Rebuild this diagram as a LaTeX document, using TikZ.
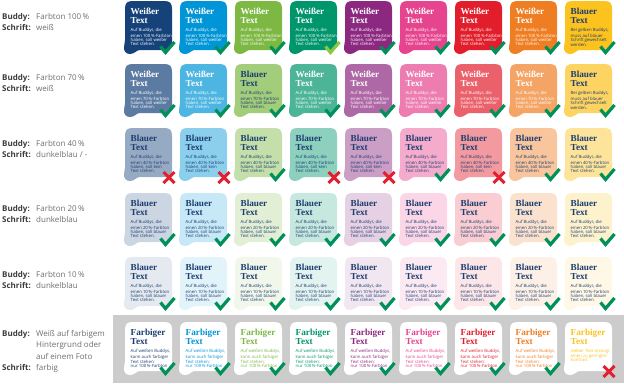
\documentclass[tikz,border=0pt]{standalone}
\usepackage{fontspec}
\setmainfont{Open Sans}
\newfontfamily\titlefont{Liberation Serif}
\usepackage{xcolor}

\definecolor{bnavy}{RGB}{22,66,122}
\definecolor{bcyan}{RGB}{0,149,214}
\definecolor{bgreen}{RGB}{124,184,66}
\definecolor{bteal}{RGB}{0,150,108}
\definecolor{bpurple}{RGB}{140,40,128}
\definecolor{bpink}{RGB}{230,68,142}
\definecolor{bred}{RGB}{226,30,44}
\definecolor{borange}{RGB}{239,125,34}
\definecolor{byellow}{RGB}{252,194,30}
\definecolor{txtblue}{RGB}{28,62,112}
\definecolor{okgreen}{RGB}{0,145,90}
\definecolor{oklight}{RGB}{141,198,63}
\definecolor{nored}{RGB}{226,32,48}
\definecolor{bandgrey}{RGB}{204,204,204}
\definecolor{labgrey}{RGB}{60,60,60}
\definecolor{valgrey}{RGB}{110,110,110}

\tikzset{
  buddy/.pic={\fill[pic actions] (0,8) .. controls (0,2) and (2,0) .. (8,0) -- (39,0)
    .. controls (45,0) and (47,2) .. (47,8) -- (47,42) .. controls (47,47) and (45,49) .. (40,49)
    -- (15,49) .. controls (11,49) and (10,53) .. (5,53) .. controls (1,53) and (-1.5,50) .. (-1,46)
    .. controls (-0.5,43) and (0,42) .. (0,39) -- cycle;},
  tick/.pic={\draw[okgreen,line width=3.2pt] (35.5,45.5) -- (40.5,51.5) -- (49.5,41);},
  ticklight/.pic={\draw[oklight,line width=3.2pt] (35.5,45.5) -- (40.5,51.5) -- (49.5,41);},
  cross/.pic={\draw[nored,line width=3pt] (38.5,44) -- (49.5,55) (38.5,55) -- (49.5,44);},
  title/.style={font=\titlefont\bfseries\fontsize{9.2}{9}\selectfont,align=left,inner sep=0pt,anchor=north west},
  body/.style={font=\fontsize{4.3}{4.2}\selectfont,align=left,inner sep=0pt,anchor=north west},
  lab/.style={font=\bfseries\fontsize{8}{10}\selectfont,text=labgrey,inner sep=0pt,anchor=base west},
  val/.style={font=\fontsize{8}{10}\selectfont,text=valgrey,inner sep=0pt,anchor=base west}
}

\newcommand\tW{Weißer\\Text}
\newcommand\tB{Blauer\\Text}
\newcommand\tF{Farbiger\\Text}
\newcommand\bW[1]{Auf Buddys, die\\einen #1\,\%-Farbton\\haben, soll weißer\\Text stehen.}
\newcommand\bB[1]{Auf Buddys, die\\einen #1\,\%-Farbton\\haben, soll blauer\\Text stehen.}
\newcommand\bK[1]{Auf Buddys, die\\einen #1\,\%-Farbton\\haben, soll kein\\Text stehen.}
\newcommand\bY[1]{Bei gelben Buddys,\\muss auf blauer\\Schrift gewechselt\\werden.}
\newcommand\bF[1]{Auf weißen Buddys,\\kann auch farbiger\\Text stehen:\\nur 100\,\%-Farbton}
\newcommand\bG[1]{Gelber Text erzeugt\\einen zu geringen\\Kontrast.}

% name, x, y, fill, text colour, title, body, mark
\newcommand\cell[8]{%
  \pic[fill=#4] at (#2,#3) {buddy};
  \node[title,text=#5] (t#1) at (#2+5.5,#3+7) {#6};
  \node[body,text=#5] (s#1) at (#2+5.5,#3+27.5) {#7};
  \pic at (#2,#3) {#8};
}

\begin{document}
\begin{tikzpicture}[x=1pt,y=-1pt]
  \useasboundingbox (0,0) rectangle (624,383);
  \fill[bandgrey] (113,315) rectangle (624,383);

  % labels
  \node[lab] (b1) at (2,19) {Buddy:};
  \node[val] (v1) at (36,19) {Farbton 100\,\%};
  \node[lab] (f1) at (2,30) {Schrift:};
  \node[val] (w1) at (36,30) {weiß};
  \node[lab] (b2) at (2,80) {Buddy:};
  \node[val] (v2) at (36,80) {Farbton 70\,\%};
  \node[lab] (f2) at (2,91) {Schrift:};
  \node[val] (w2) at (36,91) {weiß};
  \node[lab] (b3) at (2,146) {Buddy:};
  \node[val] (v3) at (36,146) {Farbton 40\,\%};
  \node[lab] (f3) at (2,157) {Schrift:};
  \node[val] (w3) at (36,157) {dunkelblau / -};
  \node[lab] (b4) at (2,211) {Buddy:};
  \node[val] (v4) at (36,211) {Farbton 20\,\%};
  \node[lab] (f4) at (2,222) {Schrift:};
  \node[val] (w4) at (36,222) {dunkelblau};
  \node[lab] (b5) at (2,277) {Buddy:};
  \node[val] (v5) at (36,277) {Farbton 10\,\%};
  \node[lab] (f5) at (2,288) {Schrift:};
  \node[val] (w5) at (36,288) {dunkelblau};
  \node[lab] (b6) at (2,336) {Buddy:};
  \node[val] (v6) at (36,336) {Weiß auf farbigem};
  \node[val] (v6b) at (36,347.5) {Hintergrund oder};
  \node[val] (v6c) at (36,359) {auf einem Foto};
  \node[lab] (f6) at (2,370.5) {Schrift:};
  \node[val] (w6) at (36,370.5) {farbig};

  % 100 %
  \foreach \colr/\fc/\ttl/\bdy/\mk [count=\i from 0] in {bnavy/white/\tW/\bW/tick,
      bcyan/white/\tW/\bW/tick, bgreen/white/\tW/\bW/tick, bteal/white/\tW/\bW/ticklight,
      bpurple/white/\tW/\bW/tick, bpink/white/\tW/\bW/tick, bred/white/\tW/\bW/tick,
      borange/white/\tW/\bW/tick, byellow/txtblue/\tB/\bY/tick}
    {\cell{a\i}{125+55*\i}{1}{\colr}{\fc}{\ttl}{\bdy{100}}{\mk}}

  % 70 %
  \foreach \colr/\fc/\ttl/\bdy [count=\i from 0] in {bnavy/white/\tW/\bW,
      bcyan/white/\tW/\bW, bgreen/txtblue/\tB/\bB, bteal/white/\tW/\bW,
      bpurple/white/\tW/\bW, bpink/white/\tW/\bW, bred/white/\tW/\bW,
      borange/white/\tW/\bW, byellow/txtblue/\tB/\bY}
    {\cell{b\i}{125+55*\i}{64}{\colr!70!white}{\fc}{\ttl}{\bdy{70}}{tick}}

  % 40 %
  \foreach \colr/\bdy/\mk [count=\i from 0] in {bnavy/\bK/cross, bcyan/\bK/cross,
      bgreen/\bB/tick, bteal/\bK/cross, bpurple/\bK/cross, bpink/\bB/tick,
      bred/\bK/cross, borange/\bB/tick, byellow/\bB/tick}
    {\cell{c\i}{125+55*\i}{128}{\colr!45!white}{txtblue}{\tB}{\bdy{40}}{\mk}}

  % 20 %
  \foreach \colr [count=\i from 0] in {bnavy,bcyan,bgreen,bteal,bpurple,bpink,bred,borange,byellow}
    {\cell{d\i}{125+55*\i}{193}{\colr!22!white}{txtblue}{\tB}{\bB{20}}{tick}}

  % 10 %
  \foreach \colr [count=\i from 0] in {bnavy,bcyan,bgreen,bteal,bpurple,bpink,bred,borange,byellow}
    {\cell{e\i}{125+55*\i}{257}{\colr!11!white}{txtblue}{\tB}{\bB{10}}{tick}}

  % weiss, farbige Schrift
  \foreach \colr/\bdy/\mk [count=\i from 0] in {txtblue/\bF/tick, bcyan/\bF/tick,
      bgreen/\bF/tick, bteal/\bF/tick, bpurple/\bF/tick, bpink/\bF/tick,
      bred/\bF/tick, borange/\bF/tick, byellow/\bG/cross}
    {\cell{f\i}{125+55*\i}{322}{white}{\colr}{\tF}{\bdy{}}{\mk}}
\end{tikzpicture}
\end{document}
